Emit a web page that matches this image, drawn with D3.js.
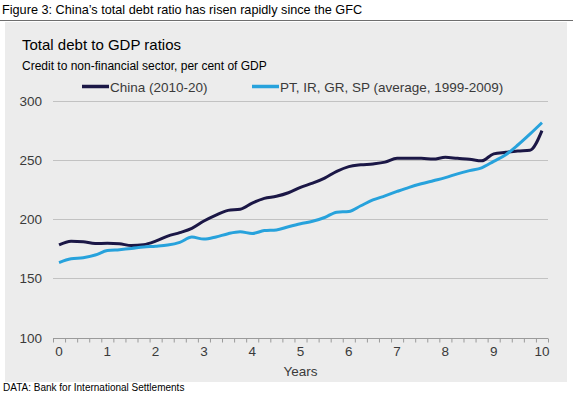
<html>
<head>
<script src="https://cdn.jsdelivr.net/npm/d3@7"></script>
<style>
  body { margin: 0; background: #fff; }
  text { font-family: "Liberation Sans", Arial, sans-serif; }
</style>
</head>
<body>
<script>
var w = 573;
var h = 397;

// quarterly points, years 0 to 10
var years = d3.range(41).map(function(i) { return i / 4; });

var china = [178.4, 181.5, 181.0, 179.5, 179.6, 179.2, 177.8, 178.5, 181.5, 185.8,
             188.7, 192.3, 198.5, 203.5, 207.5, 208.5, 213.7, 217.7, 219.4, 222.4,
             227.0, 230.5, 234.8, 240.5, 244.5, 246.0, 246.8, 248.3, 251.6, 251.6,
             251.6, 250.9, 252.4, 251.5, 250.8, 249.4, 255.3, 256.6, 257.7, 258.3, 275.0];

var periphery = [163.4, 166.6, 167.5, 169.8, 173.5, 174.3, 175.3, 176.5, 177.2, 178.2,
                 180.5, 184.9, 183.2, 185.0, 187.8, 189.4, 188.0, 190.4, 191.0, 193.7,
                 196.2, 198.3, 201.5, 206.0, 206.5, 211.4, 216.3, 219.8, 223.5, 227.0,
                 230.0, 232.6, 235.2, 238.4, 241.1, 243.5, 249.0, 254.6, 262.8, 272.0, 281.7];

var seriesNames = ['China (2010-20)', 'PT, IR, GR, SP (average, 1999-2009)'];
var seriesColors = ['#1b1746', '#27a2dc'];
var yTicks = [100, 150, 200, 250, 300];
var xTicks = [0, 1, 2, 3, 4, 5, 6, 7, 8, 9, 10];

var svg = d3.select('body').append('svg')
            .attr('width', w)
            .attr('height', h);

svg.append('text')
   .attr('x', 2).attr('y', 14)
   .attr('font-size', 12.7)
   .attr('fill', '#000')
   .text('Figure 3: China\u2019s total debt ratio has risen rapidly since the GFC');

svg.append('line')
   .attr('x1', 0).attr('x2', w)
   .attr('y1', 20.5).attr('y2', 20.5)
   .attr('stroke', '#6e6e6e').attr('stroke-width', 1);

svg.append('rect')
   .attr('x', 5).attr('y', 22)
   .attr('width', 562).attr('height', 360)
   .attr('fill', '#ececec');

svg.append('text')
   .attr('x', 22).attr('y', 50)
   .attr('font-size', 15)
   .attr('fill', '#000')
   .text('Total debt to GDP ratios');

svg.append('text')
   .attr('x', 22).attr('y', 70)
   .attr('font-size', 12)
   .attr('fill', '#000')
   .text('Credit to non-financial sector, per cent of GDP');

var x = d3.scaleLinear().domain([-0.125, 10.125]).range([53, 548]);
var y = d3.scaleLinear().domain([100, 300]).range([337.5, 101]);

// gridlines
svg.append('g')
   .selectAll('line')
   .data(yTicks.slice(1))
   .enter()
   .append('line')
   .attr('x1', x(-0.125)).attr('x2', x(10.125))
   .attr('y1', function(d) { return Math.round(y(d)) + 0.5; })
   .attr('y2', function(d) { return Math.round(y(d)) + 0.5; })
   .attr('stroke', '#c2c2c2').attr('stroke-width', 1);

// y axis labels
svg.append('g')
   .selectAll('text')
   .data(yTicks)
   .enter()
   .append('text')
   .attr('x', 42)
   .attr('y', function(d) { return y(d) + 5; })
   .attr('text-anchor', 'end')
   .attr('font-size', 13.5)
   .attr('fill', '#3a3a3a')
   .text(function(d) { return d; });

// x axis with quarter ticks between categories
var minor = d3.range(42).map(function(k) { return -0.125 + k * 0.25; });
var xAxis = svg.append('g')
   .attr('transform', 'translate(0,' + (Math.round(y(100)) + 0.5) + ')')
   .call(d3.axisBottom(x).tickValues(minor).tickSize(4).tickFormat(''));
xAxis.select('.domain').attr('stroke', '#9a9a9a').attr('d', 'M' + x(-0.125) + ',0H' + x(10.125));
xAxis.selectAll('.tick line').attr('stroke', '#9a9a9a');

svg.append('g')
   .selectAll('text')
   .data(xTicks)
   .enter()
   .append('text')
   .attr('x', function(d) { return x(d); })
   .attr('y', 356)
   .attr('text-anchor', 'middle')
   .attr('font-size', 13.5)
   .attr('fill', '#3a3a3a')
   .text(function(d) { return d; });

svg.append('text')
   .attr('x', x(5)).attr('y', 376)
   .attr('text-anchor', 'middle')
   .attr('font-size', 13.5)
   .attr('fill', '#3a3a3a')
   .text('Years');

// lines
var line = d3.line()
   .x(function(d, i) { return x(years[i]); })
   .y(function(d) { return y(d); })
   .curve(d3.curveMonotoneX);

[china, periphery].forEach(function(s, i) {
  svg.append('path')
     .datum(s)
     .attr('d', line)
     .attr('fill', 'none')
     .attr('stroke', seriesColors[i])
     .attr('stroke-width', 3)
     .attr('stroke-linejoin', 'round');
});

// legend
var legendX = [82, 252];
seriesNames.forEach(function(n, i) {
  svg.append('line')
     .attr('x1', legendX[i]).attr('x2', legendX[i] + 27)
     .attr('y1', 86.5).attr('y2', 86.5)
     .attr('stroke', seriesColors[i]).attr('stroke-width', 3.5);
  svg.append('text')
     .attr('x', legendX[i] + 28).attr('y', 91.5)
     .attr('font-size', 13.5)
     .attr('fill', '#3a3a3a')
     .text(n);
});

svg.append('text')
   .attr('x', 3).attr('y', 391)
   .attr('font-size', 10)
   .attr('fill', '#000')
   .text('DATA: Bank for International Settlements');
</script>
</body>
</html>
